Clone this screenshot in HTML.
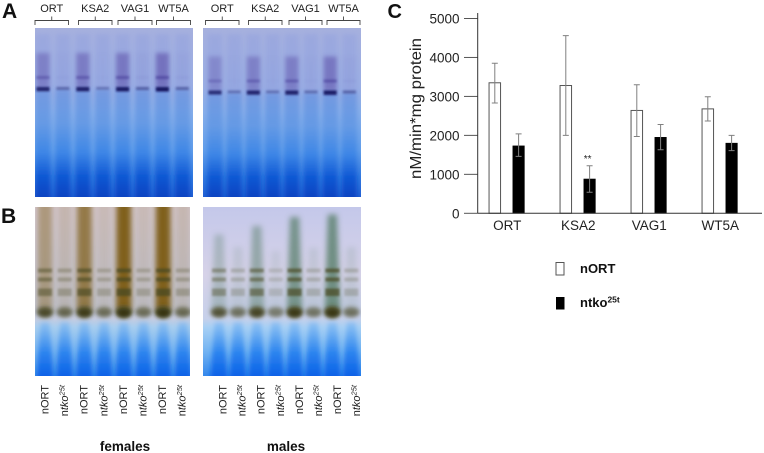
<!DOCTYPE html>
<html>
<head>
<meta charset="utf-8">
<title>Gel panels and enzyme activity chart</title>
<style>
html,body{margin:0;padding:0;background:#fff;width:764px;height:453px;overflow:hidden}
svg{display:block;font-family:"Liberation Sans",sans-serif}
</style>
</head>
<body>
<svg id="fig" width="764" height="453" viewBox="0 0 764 453" xmlns="http://www.w3.org/2000/svg">
<defs>
<filter id="b1" x="-50%" y="-100%" width="200%" height="300%"><feGaussianBlur stdDeviation="1"/></filter>
<filter id="b2" x="-50%" y="-50%" width="200%" height="200%"><feGaussianBlur stdDeviation="2"/></filter>
<filter id="b3" x="-60%" y="-20%" width="220%" height="140%"><feGaussianBlur stdDeviation="2.8"/></filter>
<linearGradient id="bgA" x1="0" y1="0" x2="0" y2="1">
<stop offset="0" stop-color="#a6b0de"/><stop offset=".35" stop-color="#9aaee4"/><stop offset=".5" stop-color="#86aeea"/><stop offset=".72" stop-color="#629eea"/><stop offset=".88" stop-color="#347ae0"/><stop offset="1" stop-color="#2260d4"/>
</linearGradient>
<linearGradient id="laneA" x1="0" y1="0" x2="0" y2="1">
<stop offset="0" stop-color="#5a88dc" stop-opacity=".55"/><stop offset=".3" stop-color="#5a92e2" stop-opacity=".65"/><stop offset=".55" stop-color="#3a84e6" stop-opacity=".9"/><stop offset=".75" stop-color="#0f58d4"/><stop offset="1" stop-color="#083cba"/>
</linearGradient>
<linearGradient id="bgB" x1="0" y1="0" x2="0" y2="1">
<stop offset="0" stop-color="#d8cdd8"/><stop offset=".66" stop-color="#c6cce0"/><stop offset=".71" stop-color="#a8ceef"/><stop offset=".85" stop-color="#78b4f0"/><stop offset="1" stop-color="#3f8eea"/>
</linearGradient>
<linearGradient id="bgBm" x1="0" y1="0" x2="0" y2="1">
<stop offset="0" stop-color="#c4c8ea"/><stop offset=".4" stop-color="#d6d2e8"/><stop offset=".66" stop-color="#c6d0ea"/><stop offset=".71" stop-color="#a8d0f4"/><stop offset=".85" stop-color="#74b4f2"/><stop offset="1" stop-color="#3488ec"/>
</linearGradient>
<linearGradient id="laneB" x1="0" y1="0" x2="0" y2="1">
<stop offset="0" stop-color="#5aa4f0" stop-opacity=".35"/><stop offset=".5" stop-color="#1a78ee" stop-opacity=".8"/><stop offset="1" stop-color="#0658e4"/>
</linearGradient>
<clipPath id="clipA1"><rect x="35" y="28" width="158" height="169"/></clipPath>
<clipPath id="clipA2"><rect x="203" y="28" width="158" height="169"/></clipPath>
<clipPath id="clipB1"><rect x="35" y="207" width="155" height="169"/></clipPath>
<clipPath id="clipB2"><rect x="203" y="207" width="158" height="169"/></clipPath>
</defs>
<g id="gels"></g>
<g id="gel-labels"></g>
<g id="chart"></g>
<text x="2" y="18" font-size="21" font-weight="bold" fill="#111">A</text>
<text x="1" y="223" font-size="21" font-weight="bold" fill="#111">B</text>
<text x="387.5" y="18" font-size="20" font-weight="bold" fill="#111">C</text>
<text x="125" y="451" font-size="13.5" font-weight="bold" text-anchor="middle" fill="#111">females</text>
<text x="286" y="451" font-size="13.5" font-weight="bold" text-anchor="middle" fill="#111">males</text>
</svg>
<script>
// Chart data
const categories = ["ORT", "KSA2", "VAG1", "WT5A"];
const nortValues = [3350, 3280, 2640, 2680];
const nortUpper = [3850, 4560, 3300, 2990];
const nortLower = [2830, 2000, 1970, 2370];
const ntkoValues = [1730, 880, 1950, 1800];
const ntkoUpper = [2040, 1220, 2280, 2000];
const ntkoLower = [1460, 540, 1630, 1610];
const yTicks = [0, 1000, 2000, 3000, 4000, 5000];

// Gel lane staining strengths (0..1), nORT and ntko alternate
const gelStrainLabels = ["ORT", "KSA2", "VAG1", "WT5A"];
const femaleActivity = [0.85, 0.22, 0.9, 0.12, 0.95, 0.28, 1, 0.25];
const maleActivity = [0.75, 0.15, 0.85, 0.15, 0.88, 0.18, 0.95, 0.25];
const femaleStain = [0.65, 0.38, 0.85, 0.32, 1, 0.32, 1, 0.36];
const maleStain = [0.55, 0.3, 0.72, 0.22, 0.9, 0.28, 0.95, 0.3];

const NS = "http://www.w3.org/2000/svg";
function mk(parent, tag, attrs) {
  const e = document.createElementNS(NS, tag);
  for (const k in attrs) e.setAttribute(k, attrs[k]);
  parent.appendChild(e);
  return e;
}

const gels = document.getElementById("gels");

function drawGelA(x, w, clip, lane0, step, bandY, strengths, name) {
  const g = mk(gels, "g", {"clip-path": "url(#" + clip + ")"});
  
  
  mk(g, "rect", {x: x, y: 28, width: w, height: 169, fill: "url(#bgA)"});
  strengths.forEach(function (s, i) {
    const cx = lane0 + i * step;
    mk(g, "rect", {x: cx - 7.5, y: bandY, width: 15, height: 197 - bandY + 8, fill: "url(#laneA)", filter: "url(#b2)"});
    mk(g, "rect", {x: cx - 7, y: 34, width: 14, height: bandY - 34, fill: "#8f9ede", opacity: 0.4, filter: "url(#b2)"});
    const strong = s * s;
    mk(g, "rect", {x: cx - 6.5, y: bandY - 36, width: 13, height: 35, fill: "#5d4fa8", opacity: strong * 0.6, filter: "url(#b2)"});
    mk(g, "rect", {x: cx - 6.5, y: bandY - 13, width: 13, height: 3, fill: "#3d3392", opacity: strong * 0.55, filter: "url(#b1)"});
    mk(g, "rect", {x: cx - 6.5, y: bandY - 2, width: 13, height: 2.5 + 2 * s, fill: "#181260", opacity: 0.25 + s * 0.75, filter: "url(#b1)"});
  });
}

function drawGelB(x, w, clip, bg, lane0, step, stains, brown, name) {
  const g = mk(gels, "g", {"clip-path": "url(#" + clip + ")"});
  
  
  mk(g, "rect", {x: x, y: 207, width: w, height: 169, fill: "url(#" + bg + ")"});
  stains.forEach(function (s, i) {
    const cx = lane0 + i * step;
    const top = brown ? 200 : 262 - s * 50;
    const topHalf = brown ? 7.5 : 4.5;
    mk(g, "polygon", {points: (cx - 4.5) + ",322 " + (cx + 4.5) + ",322 " + (cx + 9) + ",384 " + (cx - 9) + ",384", fill: "url(#laneB)", filter: "url(#b2)"});
    mk(g, "polygon", {points: (cx - topHalf) + "," + top + " " + (cx + topHalf) + "," + top + " " + (cx + 8) + ",310 " + (cx - 8) + ",310", fill: brown ? "#80601f" : "#5d8270", opacity: s * s * (brown ? 0.95 : 0.85) + 0.08, filter: "url(#b3)"});
    [271, 280, 291].forEach(function (y) {
      mk(g, "rect", {x: cx - 7, y: y - 2.5, width: 14, height: y === 291 ? 7.5 : 4, fill: "#4a4a20", opacity: s * 0.75, filter: "url(#b1)"});
    });
    mk(g, "ellipse", {cx: cx, cy: 312, rx: 8.5, ry: 5 + s, fill: "#4a4a20", opacity: 0.4 + s * 0.55, filter: "url(#b2)"});
    mk(g, "ellipse", {cx: cx, cy: 313, rx: 6.5, ry: 2.5 + s * 1.5, fill: "#35300e", opacity: s * 0.9, filter: "url(#b2)"});
  });
}

drawGelA(35, 158, "clipA1", 43, 19.9, 89, femaleActivity, "gel-a-females");
drawGelA(203, 158, "clipA2", 215, 19.2, 92.5, maleActivity, "gel-a-males");
drawGelB(35, 155, "clipB1", "bgB", 45, 19.7, femaleStain, true, "gel-b-females");
drawGelB(203, 158, "clipB2", "bgBm", 219, 18.9, maleStain, false, "gel-b-males");

// Gel labels
const gl = document.getElementById("gel-labels");
function bracketSet(starts, ends) {
  starts.forEach(function (s, i) {
    const e = ends[i], c = (s + e) / 2;
    const p = mk(gl, "path", {d: "M" + s + " 25V20.5H" + e + "V25M" + c + " 20.5V16.5", fill: "none", stroke: "#444", "stroke-width": 0.9});
    
    
    const t = mk(gl, "text", {x: c, y: 12, "font-size": 11, "text-anchor": "middle", fill: "#222"});
    t.textContent = gelStrainLabels[i];
    
    
  });
}
bracketSet([35, 78.5, 118, 156.5], [68.5, 112, 152, 190.5]);
bracketSet([205.5, 248.5, 289, 327], [239, 282, 322, 360]);

function laneLabels(lane0, step) {
  for (let i = 0; i < 8; i++) {
    const x = lane0 + i * step;
    const t = mk(gl, "text", {transform: "translate(" + x + " 385) rotate(-90)", "font-size": 11, "text-anchor": "end", fill: "#222"});
    
    
    if (i % 2 === 0) {
      t.textContent = "nORT";
    } else {
      const a = mk(t, "tspan", {});
      a.textContent = "n";
      const b = mk(t, "tspan", {"font-style": "italic"});
      b.textContent = "tko";
      const c = mk(t, "tspan", {"font-style": "italic", "font-size": 7.5, dy: -3.5});
      c.textContent = "25t";
    }
  }
}
laneLabels(48.5, 19.6);
laneLabels(226.5, 19.1);

// Bar chart
const chart = document.getElementById("chart");
const y0 = 213.3, yPerUnit = 194.8 / 5000, axisX = 477.7, axisEnd = 762;
function yScale(v) { return y0 - v * yPerUnit; }
function groupX(i) { return 494.8 + i * 71; }
const barW = 11.5, ntkoOffset = 23.8;

yTicks.forEach(function (v) {
  const tick = mk(chart, "line", {x1: 464, x2: axisX, y1: yScale(v), y2: yScale(v), stroke: "#555", "stroke-width": 1});
  
  
  const lab = mk(chart, "text", {x: 459.5, y: yScale(v) + 5, "font-size": 13.5, "text-anchor": "end", fill: "#222"});
  lab.textContent = v;
  
  
});

function drawBar(cx, v, up, lo, filled, nm) {
  const r = mk(chart, "rect", {x: cx - barW / 2, y: yScale(v), width: barW, height: y0 - yScale(v), fill: filled ? "#000" : "#fff", stroke: filled ? "#000" : "#555", "stroke-width": filled ? 0.6 : 1});
  
  
  const eb = mk(chart, "path", {d: "M" + (cx - 3) + " " + yScale(up) + "H" + (cx + 3) + "M" + cx + " " + yScale(up) + "V" + yScale(lo) + "M" + (cx - 3) + " " + yScale(lo) + "H" + (cx + 3), fill: "none", stroke: "#808080", "stroke-width": 1});
  
  
}

categories.forEach(function (c, i) {
  const x = groupX(i);
  drawBar(x, nortValues[i], nortUpper[i], nortLower[i], false, "bar-nort-" + c.toLowerCase());
  drawBar(x + ntkoOffset, ntkoValues[i], ntkoUpper[i], ntkoLower[i], true, "bar-ntko-" + c.toLowerCase());
  const t = mk(chart, "text", {x: x + 12.5, y: 230, "font-size": 13.5, "text-anchor": "middle", fill: "#222"});
  t.textContent = c;
  
  
});

const star = mk(chart, "text", {x: groupX(1) + ntkoOffset - 2, y: 162, "font-size": 10, "text-anchor": "middle", fill: "#222"});
star.textContent = "**";



const yAxis = mk(chart, "line", {x1: axisX, x2: axisX, y1: 13, y2: y0, stroke: "#333", "stroke-width": 1});


const xAxis = mk(chart, "line", {x1: axisX, x2: axisEnd, y1: y0, y2: y0, stroke: "#333", "stroke-width": 1});



const yTitle = mk(chart, "text", {transform: "translate(421 108.5) rotate(-90)", "font-size": 15.5, "text-anchor": "middle", fill: "#222", textLength: 141, lengthAdjust: "spacingAndGlyphs"});
yTitle.textContent = "nM/min*mg protein";



// Legend
const swatchA = mk(chart, "rect", {x: 556, y: 262.5, width: 8, height: 12.5, fill: "#fff", stroke: "#555", "stroke-width": 1});


const swatchB = mk(chart, "rect", {x: 556, y: 297, width: 8.5, height: 12.5, fill: "#000"});


const legA = mk(chart, "text", {x: 580, y: 273, "font-size": 13, "font-weight": "bold", fill: "#111"});
legA.textContent = "nORT";


const legB = mk(chart, "text", {x: 580, y: 307, "font-size": 13, "font-weight": "bold", fill: "#111"});


const legB1 = mk(legB, "tspan", {});
legB1.textContent = "ntko";
const legB2 = mk(legB, "tspan", {"font-size": 8.5, dy: -4.5});
legB2.textContent = "25t";
</script>
</body>
</html>
